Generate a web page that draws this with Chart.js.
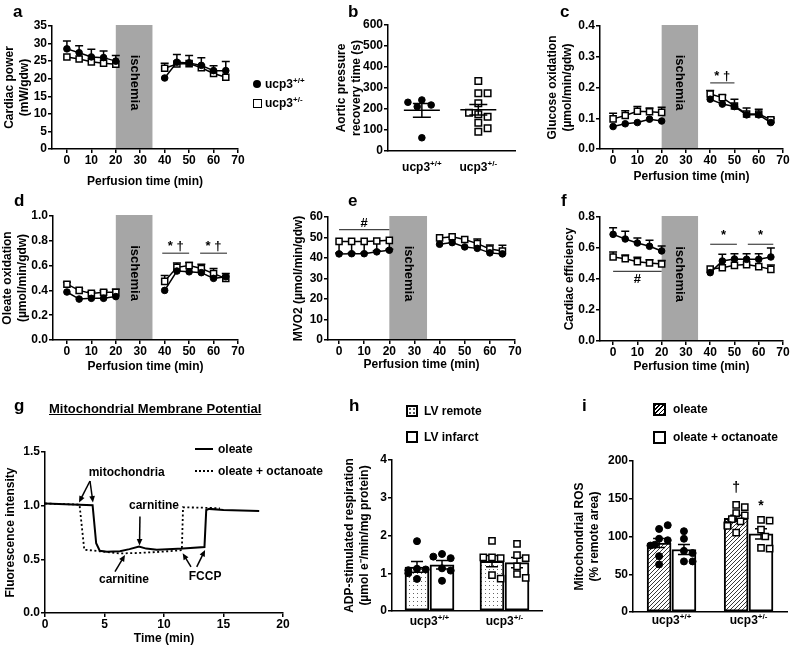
<!DOCTYPE html>
<html>
<head>
<meta charset="utf-8">
<script src="https://cdn.jsdelivr.net/npm/chart.js@4.4.1/dist/chart.umd.min.js"></script>
<style>
  body { margin: 0; width: 793px; height: 652px; position: relative; overflow: hidden; background: #fff;
         font-family: "Liberation Sans", Arial, sans-serif; font-weight: bold; color: #000; }
  canvas { position: absolute; left: 0; top: 0; }
  .t { position: absolute; white-space: nowrap; line-height: 1; font-size: 12px; }
  .L { font-size: 17px; }
  .sup { font-size: 8px; position: relative; top: -5px; }
  .box { position: absolute; box-sizing: border-box; border: 1.5px solid #000; background: #fff; }
</style>
</head>
<body>
<canvas id="a" width="793" height="652"></canvas>
<canvas id="b" width="793" height="652"></canvas>
<canvas id="c" width="793" height="652"></canvas>
<canvas id="d" width="793" height="652"></canvas>
<canvas id="e" width="793" height="652"></canvas>
<canvas id="f" width="793" height="652"></canvas>
<canvas id="g" width="793" height="652"></canvas>
<canvas id="h" width="793" height="652"></canvas>
<canvas id="i" width="793" height="652"></canvas>

<!-- panel letters -->
<div class="t L" style="left:13px;top:2.6px">a</div>
<div class="t L" style="left:348px;top:2.6px">b</div>
<div class="t L" style="left:560px;top:2.6px">c</div>
<div class="t L" style="left:14px;top:192px">d</div>
<div class="t L" style="left:348px;top:192px">e</div>
<div class="t L" style="left:561px;top:192px">f</div>
<div class="t L" style="left:14px;top:396.6px">g</div>
<div class="t L" style="left:349px;top:396.6px">h</div>
<div class="t L" style="left:582px;top:396.6px">i</div>

<!-- legend a -->
<div style="position:absolute;left:253px;top:80px;width:8px;height:8px;border-radius:50%;background:#000"></div>
<div class="t" style="left:265px;top:77.8px">ucp3<span class="sup">+/+</span></div>
<div class="box" style="left:253px;top:99px;width:8.5px;height:8.5px"></div>
<div class="t" style="left:265px;top:96.8px">ucp3<span class="sup">+/-</span></div>

<!-- panel g title + legend -->
<div class="t" style="left:49px;top:402px;font-size:13px;text-decoration:underline">Mitochondrial Membrane Potential</div>
<div style="position:absolute;left:195px;top:448px;width:18px;border-top:2.5px solid #000"></div>
<div class="t" style="left:218px;top:442.8px">oleate</div>
<div style="position:absolute;left:195px;top:470px;width:18px;border-top:2.5px dotted #000"></div>
<div class="t" style="left:218px;top:464.8px">oleate + octanoate</div>

<!-- legend h -->
<div class="box" style="left:406px;top:405px;width:12px;height:12px;border-width:2px;
     background:#fff radial-gradient(circle, #555 0.7px, transparent 0.9px) 0 0/4px 4px"></div>
<div class="t" style="left:424px;top:404.8px">LV remote</div>
<div class="box" style="left:406px;top:431px;width:12px;height:12px;border-width:2px"></div>
<div class="t" style="left:424px;top:430.8px">LV infarct</div>

<!-- legend i -->
<div class="box" style="left:653px;top:403px;width:13px;height:13px;border-width:2px;
     background:repeating-linear-gradient(-45deg, #000 0 1.2px, #fff 1.2px 3px)"></div>
<div class="t" style="left:673px;top:402.8px">oleate</div>
<div class="box" style="left:653px;top:431px;width:13px;height:13px;border-width:2px"></div>
<div class="t" style="left:673px;top:430.8px">oleate + octanoate</div>

<script>
// ---------- data ----------
const TIME = [0, 5, 10, 15, 20, 40, 45, 50, 55, 60, 65];
const ISCHEMIA = [20, 35];
const GENOTYPES = ['+/+', '+/-'];

// a: cardiac power (mW/gdw)
const A_WT      = [28.5, 27.4, 26.2, 26.0, 25.0, 20.2, 24.7, 24.5, 23.8, 22.3, 22.3];
const A_WT_TIP  = [30.7, 29.4, 28.4, 27.9, 26.6, null, 26.9, 26.6, 26.0, 23.7, 24.9];
const A_HET     = [26.2, 25.6, 24.8, 24.4, 24.1, 23.0, 24.2, 24.3, 23.1, 21.5, 20.4];
const A_HET_TIP = [null, null, null, null, null, 24.4, null, null, null, null, null];

// b: aortic pressure recovery time (s)
const B_WT  = [243, 219, 211, 232, 63];
const B_HET = [333, 275, 275, 227, 175, 163, 182, 135, 108, 92];

// c: glucose oxidation
const C_WT      = [0.073, 0.082, 0.086, 0.097, 0.091, 0.162, 0.146, 0.138, 0.111, 0.111, 0.086];
const C_HET     = [0.098, 0.109, 0.123, 0.121, 0.119, 0.179, 0.167, 0.140, 0.114, 0.114, 0.095];
const C_HET_TIP = [0.116, 0.124, 0.138, 0.133, 0.136, 0.190, 0.176, 0.162, 0.133, 0.129, 0.100];

// d: oleate oxidation
const D_WT      = [0.387, 0.330, 0.336, 0.336, 0.350, 0.400, 0.556, 0.550, 0.543, 0.497, 0.510];
const D_HET     = [0.450, 0.400, 0.376, 0.385, 0.385, 0.473, 0.586, 0.600, 0.577, 0.535, 0.497];
const D_HET_TIP = [0.465, 0.415, 0.390, 0.400, 0.410, 0.520, 0.620, 0.625, 0.610, 0.577, 0.537];

// e: MVO2
const E_WT      = [42.0, 42.1, 42.1, 43.0, 43.8, 46.7, 47.5, 45.4, 44.7, 42.5, 42.0];
const E_HET     = [48.1, 48.1, 48.1, 48.3, 48.6, 49.8, 50.4, 49.0, 47.0, 44.4, 43.4];
const E_HET_TIP = [42.5, 42.5, 42.5, 43.5, 44.3, null, null, null, 49.3, 46.3, 46.2];

// f: cardiac efficiency
const F_WT      = [0.688, 0.658, 0.632, 0.611, 0.581, 0.441, 0.516, 0.529, 0.527, 0.527, 0.542];
const F_WT_TIP  = [0.731, 0.708, 0.665, 0.650, 0.613, null, 0.559, 0.563, 0.563, 0.563, 0.600];
const F_HET     = [0.542, 0.531, 0.512, 0.503, 0.497, 0.465, 0.473, 0.488, 0.493, 0.480, 0.462];
const F_HET_TIP = [0.574, 0.555, 0.540, 0.525, 0.520, null, null, null, null, null, 0.490];

// significance bars: [from, to, y, label, labelY]
const SIG_C = [[40, 50, 0.215, '* \u2020', 0.237]];
const SIG_D = [[39, 50, 0.70, '* \u2020', 0.753], [54.5, 65.5, 0.70, '* \u2020', 0.753]];
const SIG_E = [[0, 20, 53.8, '#', 56.7]];
const SIG_F = [[0, 20, 0.449, '#', 0.396], [40, 51, 0.624, '*', 0.682], [55.5, 66, 0.624, '*', 0.682]];

// g: membrane potential traces
const G_T_OLE = [0, 4.0, 4.3, 4.6, 5.2, 6.3, 7.1, 7.9, 8.5, 9.4, 11.6, 13.4, 13.55, 13.8, 15, 18];
const G_V_OLE = [1.02, 1.005, 0.65, 0.58, 0.57, 0.575, 0.595, 0.62, 0.60, 0.59, 0.60, 0.615, 0.96, 0.97, 0.96, 0.95];
const G_T_OCT = [0, 2.9, 3.3, 4.6, 6.3, 8.0, 9.7, 11.5, 11.6, 13.6, 14.7];
const G_V_OCT = [1.02, 1.01, 0.59, 0.575, 0.555, 0.56, 0.57, 0.585, 0.985, 0.98, 0.975];
// annotations: [text, x, y] and arrows [x0, y0, x1, y1] in data units
const G_TEXT = [['mitochondria', 6.86, 1.31], ['carnitine', 9.16, 1.0], ['carnitine', 6.64, 0.31], ['FCCP', 13.45, 0.34]];
const G_ARROWS = [[3.78, 1.23, 2.86, 1.03], [3.78, 1.23, 4.03, 1.03], [7.98, 0.90, 7.94, 0.63],
                  [5.88, 0.385, 6.72, 0.54], [12.27, 0.43, 11.57, 0.556], [12.75, 0.43, 13.45, 0.587]];

// h: ADP-stimulated respiration, [genotype][remote, infarct]
const H_REMOTE_WT   = [1.85, 1.12, 1.10, 1.08, 1.00, 0.85];
const H_INFARCT_WT  = [1.51, 1.40, 1.44, 1.13, 1.07, 0.80];
const H_REMOTE_HET  = [1.86, 1.42, 1.40, 1.42, 0.95, 0.86];
const H_INFARCT_HET = [1.78, 1.48, 1.40, 1.18, 0.98, 0.88];

// i: mitochondrial ROS, [genotype][oleate, oleate + octanoate]
const I_OLE_WT  = [110, 115, 97, 95, 89, 88, 74, 63];
const I_OCT_WT  = [107, 97, 81, 78, 67, 67];
const I_OLE_HET = [142, 139, 131, 128, 123, 120, 115, 114, 105];
const I_OCT_HET = [122, 121, 109, 100, 85, 84];
const I_MARKS = [['\u2020', 1, 0, 164], ['*', 1, 1, 140]];

// ---------- helpers ----------
const W = 793, H = 652;
const FONT = '"Liberation Sans", Arial, sans-serif';
Chart.defaults.font.family = FONT;
Chart.defaults.font.weight = 'bold';
Chart.defaults.font.size = 12;
Chart.defaults.color = '#000';
Chart.defaults.animation = false;
Chart.defaults.events = [];
Chart.defaults.plugins.legend.display = false;
Chart.defaults.plugins.tooltip.enabled = false;

const mean = a => a.reduce((s, v) => s + v, 0) / a.length;
const sem = a => { const m = mean(a); return Math.sqrt(a.reduce((s, v) => s + (v - m) ** 2, 0) / (a.length - 1)) / Math.sqrt(a.length); };

function frame(box, yW, xH) {
  return { padding: { left: box.l - yW, top: box.t, right: W - box.r, bottom: H - box.b - xH } };
}

const axisLine = { color: '#000', width: 1.5, z: 1 };
const tickGrid = { drawOnChartArea: false, tickLength: 4, color: '#000', lineWidth: 1.5 };

function stepTicks(max, step) {
  return s => {
    const t = [];
    for (let k = 0; k * step <= max + 1e-9; k++) t.push({ value: +(k * step).toFixed(6) });
    s.ticks = t;
  };
}

function yAxis(max, step, dec, title, yW) {
  return {
    min: 0, max,
    ticks: { padding: 1, autoSkip: false, callback: v => v.toFixed(dec) },
    afterBuildTicks: stepTicks(max, step),
    grid: tickGrid, border: axisLine,
    title: { display: true, text: title, padding: 0, font: { size: 12, lineHeight: 1.25 } },
    afterFit: s => { s.width = yW; }
  };
}

function xLinear(min, max, step, title, xH) {
  return {
    type: 'linear', min, max,
    ticks: { padding: 0, maxRotation: 0, autoSkip: false },
    afterBuildTicks: stepTicks(max, step),
    grid: tickGrid, border: axisLine,
    title: { display: true, text: title, padding: 0, font: { size: 12, lineHeight: 1.25 } },
    afterFit: s => { s.height = xH; }
  };
}

function series(vals) {
  const pts = [];
  TIME.forEach((t, i) => {
    if (i > 0 && t - TIME[i - 1] > 5) pts.push({ x: (t + TIME[i - 1]) / 2, y: null });
    pts.push({ x: t, y: vals[i] });
  });
  return pts;
}

function supText(ctx, cx, baseline, base, sup) {
  ctx.save();
  ctx.fillStyle = '#000';
  ctx.textBaseline = 'alphabetic';
  ctx.font = 'bold 12px ' + FONT;
  const w1 = ctx.measureText(base).width;
  ctx.font = 'bold 8px ' + FONT;
  const w2 = ctx.measureText(sup).width;
  const x0 = cx - (w1 + w2) / 2;
  ctx.font = 'bold 12px ' + FONT;
  ctx.fillText(base, x0, baseline);
  ctx.font = 'bold 8px ' + FONT;
  ctx.fillText(sup, x0 + w1, baseline - 5);
  ctx.restore();
}

const ischemiaPlugin = {
  id: 'ischemia',
  beforeDatasetsDraw(ch) {
    const { ctx, chartArea: a, scales: { x } } = ch;
    const x0 = x.getPixelForValue(ISCHEMIA[0]), x1 = x.getPixelForValue(ISCHEMIA[1]);
    ctx.save();
    ctx.fillStyle = '#a6a6a6';
    ctx.fillRect(x0, a.top - 1, x1 - x0, a.bottom - a.top);
    ctx.translate((x0 + x1) / 2, a.top + (a.bottom - a.top) * 0.46);
    ctx.rotate(Math.PI / 2);
    ctx.font = 'bold 13px ' + FONT;
    ctx.fillStyle = '#000';
    ctx.textAlign = 'center';
    ctx.textBaseline = 'middle';
    ctx.fillText('ischemia', 0, 0);
    ctx.restore();
  }
};

function whiskers(pairs) {
  return {
    id: 'whiskers',
    beforeDatasetsDraw(ch) {
      const { ctx, scales: { x, y } } = ch;
      ctx.save();
      ctx.strokeStyle = '#000';
      ctx.lineWidth = 1.5;
      pairs.forEach(([vals, tips]) => tips.forEach((tip, i) => {
        if (tip == null) return;
        const px = x.getPixelForValue(TIME[i]);
        const p0 = y.getPixelForValue(vals[i]), p1 = y.getPixelForValue(tip);
        ctx.beginPath();
        ctx.moveTo(px, p0); ctx.lineTo(px, p1);
        ctx.moveTo(px - 4, p1); ctx.lineTo(px + 4, p1);
        ctx.stroke();
      }));
      ctx.restore();
    }
  };
}

function sigBars(marks) {
  return {
    id: 'sig',
    afterDatasetsDraw(ch) {
      const { ctx, scales: { x, y } } = ch;
      ctx.save();
      marks.forEach(([a, b, yv, label, ly]) => {
        ctx.strokeStyle = '#444';
        ctx.lineWidth = 1.2;
        ctx.beginPath();
        ctx.moveTo(x.getPixelForValue(a), y.getPixelForValue(yv));
        ctx.lineTo(x.getPixelForValue(b), y.getPixelForValue(yv));
        ctx.stroke();
        ctx.fillStyle = '#000';
        ctx.font = 'bold 13px ' + FONT;
        ctx.textAlign = 'center';
        ctx.textBaseline = 'middle';
        ctx.fillText(label, x.getPixelForValue((a + b) / 2), y.getPixelForValue(ly));
      });
      ctx.restore();
    }
  };
}

function timePanel(id, o) {
  new Chart(document.getElementById(id), {
    type: 'line',
    data: {
      datasets: [
        { data: series(o.wt), borderColor: '#000', borderWidth: 1.5, pointStyle: 'circle', pointRadius: 3.3,
          pointBackgroundColor: '#000', pointBorderColor: '#000', pointBorderWidth: 1 },
        { data: series(o.het), borderColor: '#000', borderWidth: 1.5, pointStyle: 'rect', pointRadius: 4.3,
          pointBackgroundColor: '#fff', pointBorderColor: '#000', pointBorderWidth: 1.5 }
      ]
    },
    options: {
      responsive: false,
      layout: frame(o.box, o.yW, o.xH),
      scales: {
        x: xLinear(o.xmin, 70, 10, 'Perfusion time (min)', o.xH),
        y: yAxis(o.ymax, o.ystep, o.dec, o.title, o.yW)
      }
    },
    plugins: [ischemiaPlugin, whiskers(o.tips), sigBars(o.sig || [])]
  });
}

// beeswarm offsets (in x units) so that markers do not overlap
function swarm(vals, pxY, pxX, d, maxOff) {
  const placed = [];
  return vals.map(v => {
    const py = v * pxY;
    let best = 0;
    for (let k = 0; k < 9; k++) {
      const o = (k % 2 ? 1 : -1) * Math.ceil(k / 2) * d * 0.62;
      if (Math.abs(o) > maxOff) continue;
      best = o;
      if (placed.every(p => (o - p.o) ** 2 + (py - p.py) ** 2 >= d * d)) break;
    }
    placed.push({ o: best, py });
    return best / pxX;
  });
}

// ---------- panel a, c, d, e, f ----------
timePanel('a', { box: { l: 52, r: 238, t: 26, b: 149 }, yW: 49.5, xH: 40, xmin: -6.1, ymax: 35, ystep: 5, dec: 0,
  title: ['Cardiac power', '(mW/gdw)'], wt: A_WT, het: A_HET, tips: [[A_WT, A_WT_TIP], [A_HET, A_HET_TIP]] });
timePanel('c', { box: { l: 600, r: 783, t: 26, b: 149 }, yW: 54.5, xH: 35.5, xmin: -5.4, ymax: 0.4, ystep: 0.1, dec: 1,
  title: ['Glucose oxidation', '(\u00b5mol/min/gdw)'], wt: C_WT, het: C_HET, tips: [[C_HET, C_HET_TIP]], sig: SIG_C });
timePanel('d', { box: { l: 53, r: 238, t: 216, b: 340 }, yW: 53, xH: 34.2, xmin: -5.7, ymax: 1.0, ystep: 0.2, dec: 1,
  title: ['Oleate oxidation', '(\u00b5mol/min/gdw)'], wt: D_WT, het: D_HET, tips: [[D_HET, D_HET_TIP]], sig: SIG_D });
timePanel('e', { box: { l: 328, r: 515, t: 217, b: 340 }, yW: 36.5, xH: 32.5, xmin: -4.4, ymax: 60, ystep: 10, dec: 0,
  title: 'MVO2 (\u00b5mol/min/gdw)', wt: E_WT, het: E_HET, tips: [[E_HET, E_HET_TIP]], sig: SIG_E });
timePanel('f', { box: { l: 600, r: 783, t: 217, b: 341 }, yW: 37.5, xH: 33.2, xmin: -5.4, ymax: 0.8, ystep: 0.2, dec: 1,
  title: 'Cardiac efficiency', wt: F_WT, het: F_HET, tips: [[F_WT, F_WT_TIP], [F_HET, F_HET_TIP]], sig: SIG_F });

// ---------- panel b ----------
(function () {
  const box = { l: 388, r: 515, t: 25, b: 151 }, yW = 53.8, xH = 30;
  const XMAX = 2.25, CAT = [0.6, 1.6];
  const pxX = (box.r - box.l) / XMAX, pxY = (box.b - box.t) / 600;
  const jw = swarm(B_WT, pxY, pxX, 7.5, 18), jh = swarm(B_HET, pxY, pxX, 7.5, 18);
  new Chart(document.getElementById('b'), {
    type: 'scatter',
    data: {
      datasets: [
        { data: B_WT.map((v, k) => ({ x: CAT[0] + jw[k], y: v })), pointStyle: 'circle', pointRadius: 3.3,
          backgroundColor: '#000', borderColor: '#000', borderWidth: 1 },
        { data: B_HET.map((v, k) => ({ x: CAT[1] + jh[k], y: v })), pointStyle: 'rect', pointRadius: 4.6,
          backgroundColor: '#fff', borderColor: '#000', borderWidth: 1.5 }
      ]
    },
    options: {
      responsive: false,
      layout: frame(box, yW, xH),
      scales: {
        x: { type: 'linear', min: 0, max: XMAX, ticks: { display: false }, grid: { display: false }, border: axisLine,
             afterFit: s => { s.height = xH; } },
        y: yAxis(600, 100, 0, ['Aortic pressure', 'recovery time (s)'], yW)
      }
    },
    plugins: [{
      id: 'meanSem',
      afterDatasetsDraw(ch) {
        const { ctx, scales: { x, y } } = ch;
        ctx.save();
        ctx.strokeStyle = '#000';
        ctx.lineWidth = 1.5;
        [B_WT, B_HET].forEach((vals, g) => {
          const px = x.getPixelForValue(CAT[g]), m = mean(vals), s = sem(vals);
          const pm = y.getPixelForValue(m), pt = y.getPixelForValue(m + s), pb = y.getPixelForValue(m - s);
          ctx.beginPath();
          ctx.moveTo(px - 18, pm); ctx.lineTo(px + 18, pm);
          ctx.moveTo(px, pt); ctx.lineTo(px, pb);
          ctx.moveTo(px - 9, pt); ctx.lineTo(px + 9, pt);
          ctx.moveTo(px - 9, pb); ctx.lineTo(px + 9, pb);
          ctx.stroke();
        });
        ctx.restore();
      },
      afterDraw(ch) {
        GENOTYPES.forEach((g, k) => supText(ch.ctx, ch.scales.x.getPixelForValue(CAT[k]), ch.chartArea.bottom + 19.5, 'ucp3', g));
      }
    }]
  });
})();

// ---------- panel g ----------
(function () {
  const box = { l: 45, r: 283, t: 452, b: 613 }, yW = 41.5, xH = 33.5;
  const pts = (t, v) => t.map((x, k) => ({ x, y: v[k] }));
  new Chart(document.getElementById('g'), {
    type: 'line',
    data: {
      datasets: [
        { data: pts(G_T_OLE, G_V_OLE), borderColor: '#000', borderWidth: 2, pointRadius: 0, tension: 0 },
        { data: pts(G_T_OCT, G_V_OCT), borderColor: '#000', borderWidth: 1.8, borderDash: [2, 2.5], pointRadius: 0, tension: 0 }
      ]
    },
    options: {
      responsive: false,
      layout: frame(box, yW, xH),
      scales: {
        x: xLinear(0, 20, 5, 'Time (min)', xH),
        y: yAxis(1.5, 0.5, 1, 'Fluorescence intensity', yW)
      }
    },
    plugins: [{
      id: 'notes',
      afterDatasetsDraw(ch) {
        const { ctx, scales: { x, y } } = ch;
        ctx.save();
        ctx.fillStyle = '#000';
        ctx.strokeStyle = '#000';
        ctx.lineWidth = 1.5;
        ctx.font = 'bold 12px ' + FONT;
        ctx.textAlign = 'center';
        ctx.textBaseline = 'middle';
        G_TEXT.forEach(([s, tx, ty]) => ctx.fillText(s, x.getPixelForValue(tx), y.getPixelForValue(ty)));
        G_ARROWS.forEach(([ax, ay, bx, by]) => {
          const x0 = x.getPixelForValue(ax), y0 = y.getPixelForValue(ay);
          const x1 = x.getPixelForValue(bx), y1 = y.getPixelForValue(by);
          const ang = Math.atan2(y1 - y0, x1 - x0), L = 7, w = 0.42;
          ctx.beginPath();
          ctx.moveTo(x0, y0);
          ctx.lineTo(x1 - 4 * Math.cos(ang), y1 - 4 * Math.sin(ang));
          ctx.stroke();
          ctx.beginPath();
          ctx.moveTo(x1, y1);
          ctx.lineTo(x1 - L * Math.cos(ang - w), y1 - L * Math.sin(ang - w));
          ctx.lineTo(x1 - L * Math.cos(ang + w), y1 - L * Math.sin(ang + w));
          ctx.closePath();
          ctx.fill();
        });
        ctx.restore();
      }
    }]
  });
})();

// ---------- panels h and i (bars with points) ----------
function makePattern(id, kind) {
  const c = document.createElement('canvas');
  c.width = c.height = 4;
  const g = c.getContext('2d');
  g.fillStyle = '#fff';
  g.fillRect(0, 0, 4, 4);
  if (kind === 'hatch') {
    g.strokeStyle = '#222';
    g.lineWidth = 0.9;
    g.beginPath();
    g.moveTo(0, 4); g.lineTo(4, 0);
    g.moveTo(-1, 1); g.lineTo(1, -1);
    g.moveTo(3, 5); g.lineTo(5, 3);
    g.stroke();
  } else {
    g.fillStyle = '#666';
    g.fillRect(1, 1, 1, 1);
  }
  return document.getElementById(id).getContext('2d').createPattern(c, 'repeat');
}

function barPanel(id, o) {
  const half = o.cp / 4;
  const off = [-half, half];
  const pxX = (o.box.r - o.box.l) / 2, pxY = (o.box.b - o.box.t) / o.ymax;
  const pointsFor = g => [].concat(...o.groups[g].map((vals, b) => {
    const j = swarm(vals, pxY, pxX, 7, 9);
    return vals.map((v, k) => ({ x: g + off[b] + j[k], y: v }));
  }));
  const barSet = (b, fill) => ({
    type: 'bar', order: 2, grouped: false, barThickness: 24,
    data: o.groups.map((gr, g) => ({ x: g + off[b], y: mean(gr[b]) })),
    backgroundColor: fill, borderColor: '#000', borderWidth: 2, borderSkipped: false
  });
  new Chart(document.getElementById(id), {
    data: {
      datasets: [
        barSet(0, o.pattern),
        barSet(1, '#fff'),
        { type: 'scatter', order: 1, data: pointsFor(0), pointStyle: 'circle', pointRadius: 3.5,
          backgroundColor: '#000', borderColor: '#000', borderWidth: 1 },
        { type: 'scatter', order: 1, data: pointsFor(1), pointStyle: 'rect', pointRadius: 4.4,
          backgroundColor: '#fff', borderColor: '#000', borderWidth: 1.5 }
      ]
    },
    options: {
      responsive: false,
      layout: frame(o.box, o.yW, 30),
      scales: {
        x: { type: 'linear', min: -0.5, max: 1.5, offset: false, ticks: { display: false }, grid: { display: false },
             border: axisLine, afterFit: s => { s.height = 30; } },
        y: yAxis(o.ymax, o.ystep, 0, o.title, o.yW)
      }
    },
    plugins: [{
      id: 'sem',
      afterDatasetDraw(ch, args) {
        if (args.index !== 0) return;
        const { ctx, scales: { x, y } } = ch;
        ctx.save();
        ctx.strokeStyle = '#000';
        ctx.lineWidth = 1.5;
        o.groups.forEach((gr, g) => gr.forEach((vals, b) => {
          const px = x.getPixelForValue(g + off[b]), m = mean(vals), s = sem(vals);
          const pt = y.getPixelForValue(m + s), pb = y.getPixelForValue(m - s);
          ctx.beginPath();
          ctx.moveTo(px, pt); ctx.lineTo(px, pb);
          ctx.moveTo(px - 6, pt); ctx.lineTo(px + 6, pt);
          ctx.moveTo(px - 6, pb); ctx.lineTo(px + 6, pb);
          ctx.stroke();
        }));
        ctx.restore();
      },
      afterDraw(ch) {
        const { ctx, scales: { x, y } } = ch;
        GENOTYPES.forEach((g, k) => supText(ctx, x.getPixelForValue(k), ch.chartArea.bottom + o.labelDy, 'ucp3', g));
        ctx.save();
        ctx.font = 'bold 14px ' + FONT;
        ctx.textAlign = 'center';
        ctx.textBaseline = 'middle';
        ctx.fillStyle = '#000';
        (o.marks || []).forEach(([s, g, b, v]) => ctx.fillText(s, x.getPixelForValue(g + off[b]), y.getPixelForValue(v)));
        ctx.restore();
      }
    }]
  });
}

barPanel('h', { box: { l: 392, r: 542, t: 460, b: 611 }, yW: 49.5, cp: 0.667, ymax: 4, ystep: 1,
  title: ['ADP-stimulated respiration', '(\u00b5mol e\u207b/min/mg protein)'],
  groups: [[H_REMOTE_WT, H_INFARCT_WT], [H_REMOTE_HET, H_INFARCT_HET]],
  pattern: makePattern('h', 'dots'), labelDy: 14 });

barPanel('i', { box: { l: 633, r: 788, t: 461, b: 612 }, yW: 60.5, cp: 0.645, ymax: 200, ystep: 50,
  title: ['Mitochondrial ROS', '(% remote area)'],
  groups: [[I_OLE_WT, I_OCT_WT], [I_OLE_HET, I_OCT_HET]],
  pattern: makePattern('i', 'hatch'), labelDy: 12, marks: I_MARKS });
</script>
</body>
</html>
